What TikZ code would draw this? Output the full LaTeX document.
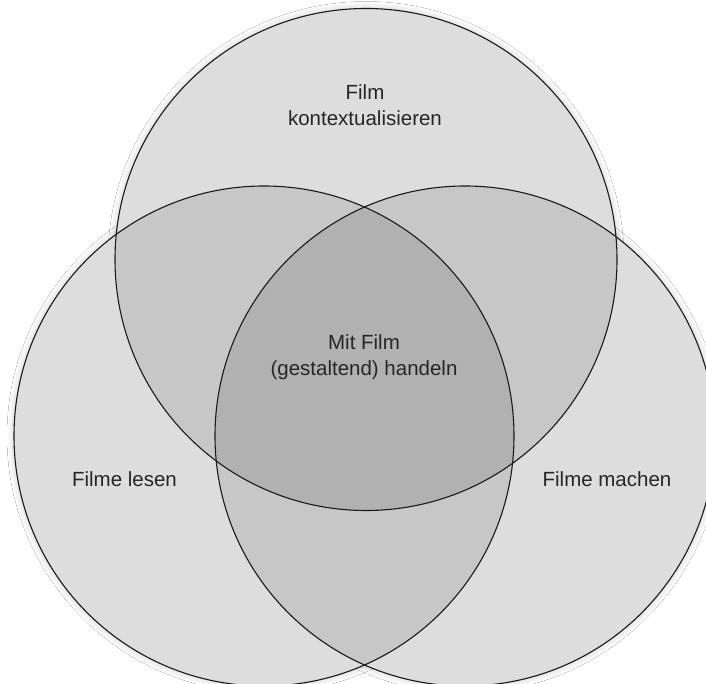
\documentclass[tikz,border=0pt]{standalone}
\usepackage{fontspec}
\setmainfont{Liberation Sans}
\usetikzlibrary{shadows.blur}
\definecolor{fillone}{HTML}{DDDDDD}
\definecolor{filltwo}{HTML}{C7C7C7}
\definecolor{fillthree}{HTML}{B0B1B0}
\definecolor{edgecol}{HTML}{1A1A1A}
\tikzset{
  lbl/.style={font=\fontsize{20.5}{26}\selectfont, text=black!85, align=center, inner sep=0pt, anchor=base},
  rim/.style={draw=edgecol, line width=1.1pt},
  softshadow/.style={blur shadow={shadow xshift=0pt, shadow yshift=0pt, shadow blur radius=7pt, shadow blur steps=10, shadow opacity=22}},
}
\begin{document}
\begin{tikzpicture}[x=1pt,y=-1pt]
\useasboundingbox[fill=white] (0,0) rectangle (706,684);
\coordinate (ct) at (366,259.5);
\coordinate (cl) at (264,436);
\coordinate (cr) at (465,436);
\def\rt{251}
\def\rl{250}
% base fills with soft shadow
\begin{scope}
\clip (0,0) rectangle (706,684);
\fill[fillone, softshadow] (cl) circle[radius=\rl];
\fill[fillone, softshadow] (cr) circle[radius=\rl];
\fill[fillone, softshadow] (ct) circle[radius=\rt];
\fill[fillone] (cl) circle[radius=\rl];
\fill[fillone] (cr) circle[radius=\rl];
\end{scope}
% pairwise intersections
\begin{scope}
\clip (ct) circle[radius=\rt];
\fill[filltwo] (cl) circle[radius=\rl];
\fill[filltwo] (cr) circle[radius=\rl];
\end{scope}
\begin{scope}
\clip (cl) circle[radius=\rl];
\fill[filltwo] (cr) circle[radius=\rl];
\end{scope}
% triple intersection
\begin{scope}
\clip (ct) circle[radius=\rt];
\clip (cl) circle[radius=\rl];
\fill[fillthree] (cr) circle[radius=\rl];
\end{scope}
% outlines
\begin{scope}
\clip (0,0) rectangle (706,684);
\draw[rim] (ct) circle[radius=\rt];
\draw[rim] (cl) circle[radius=\rl];
\draw[rim] (cr) circle[radius=\rl];
\end{scope}
% labels
\node[lbl] (top) at (365,126) {Film\\kontextualisieren};
\node[lbl] (mid) at (364,375) {Mit Film\\(gestaltend) handeln};
\node[lbl] (left) at (124.5,486) {Filme lesen};
\node[lbl] (right) at (607,486) {Filme machen};
\end{tikzpicture}
\end{document}
